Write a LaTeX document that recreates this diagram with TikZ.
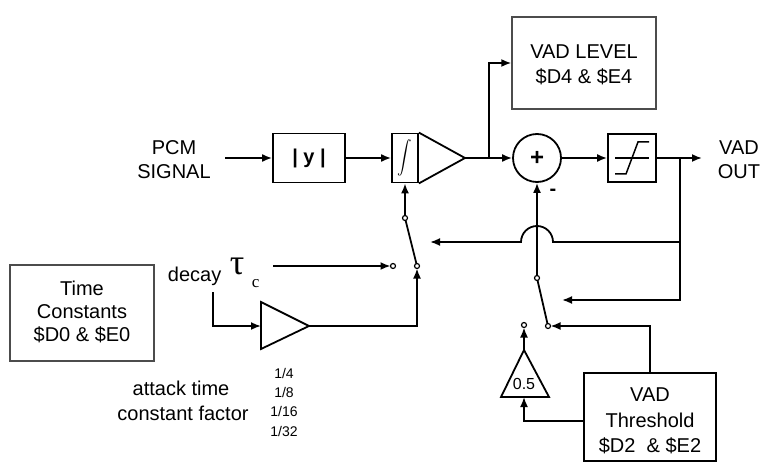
\documentclass[tikz,border=0pt]{standalone}
\usepackage{fontspec}
\setmainfont{Liberation Sans}
\newfontfamily\serifg{Liberation Serif}
\usetikzlibrary{arrows.meta}
\begin{document}
\begin{tikzpicture}[x=1pt,y=-1pt,
  line width=1.8pt,
  >={Latex[length=10pt,width=8pt]},
  box/.style={draw,line width=1.8pt,inner sep=0pt},
  gbox/.style={draw=black!70,line width=1.4pt,inner sep=0pt},
  txt/.style={font=\fontsize{20}{24}\selectfont,align=center,inner sep=0pt},
  contact/.style={draw,fill=white,line width=1.2pt,circle,inner sep=0pt,minimum size=5pt},
  frac/.style={font=\fontsize{14}{16}\selectfont,inner sep=0pt,anchor=base}]
\useasboundingbox (0,0) rectangle (762,465);

% boxes
\node[txt] (pcm) at (174,160) {PCM\\SIGNAL};
\coordinate (pcmstart) at (225,158);
\node[box,minimum width=72pt,minimum height=49pt,font=\fontsize{20}{24}\selectfont\bfseries] (abs) at (309,158) {|~y~|};
\node[box,minimum width=26pt,minimum height=49pt] (int) at (405,158) {\scalebox{1.45}[1.65]{$\displaystyle\int$}};
\coordinate (intapex) at (465,158);
\draw (int.north east) -- (intapex) -- (int.south east);
\node[box,circle,minimum size=48pt,font=\fontsize{24}{24}\selectfont\bfseries] (sum) at (537,158) {+};
\node[font=\fontsize{20}{20}\selectfont\bfseries,inner sep=0pt] (minus) at (553,192) {-};
\node[box,minimum width=48pt,minimum height=48pt] (sat) at (632,158) {};
\draw[line width=1.5pt] (615,158) -- (649,158);
\draw[line width=1.5pt] (615,174) -- (626,174) -- (638,142) -- (649,142);
\node[txt,anchor=west] (out) at (717,160) {VAD\\OUT};
\coordinate (outend) at (702,158);
\node[gbox,minimum width=144pt,minimum height=92pt] (lvl) at (584,63) {};
\node[txt,font=\fontsize{20}{25}\selectfont] (lvltxt) at (584,65) {VAD LEVEL\\\$D4 \& \$E4};
\node[gbox,minimum width=144pt,minimum height=96pt] (tc) at (82,313) {};
\node[txt,font=\fontsize{20}{23}\selectfont] (tctxt) at (82,312) {Time\\Constants\\\$D0 \& \$E0};
\node[box,minimum width=132pt,minimum height=88pt] (thr) at (650,417) {};
\node[txt,font=\fontsize{20}{25.5}\selectfont] (thrtxt) at (650,421) {VAD\\Threshold\\\$D2 \ \& \$E2};

% amplifier
\coordinate (amptop) at (261,302);
\coordinate (ampbot) at (261,349);
\coordinate (ampin) at (261,326);
\coordinate (ampapex) at (309,326);
\draw (amptop) -- (ampapex) -- (ampbot) -- cycle;
% 0.5 triangle
\coordinate (hl) at (501,397);
\coordinate (hr) at (549,397);
\coordinate (hbase) at (524,397);
\coordinate (hapex) at (524,350);
\draw (hl) -- (hapex) -- (hr) -- cycle;
\node[font=\fontsize{16}{16}\selectfont,inner sep=0pt] (half) at (524,384) {0.5};

% labels
\node[font=\fontsize{20}{20}\selectfont,anchor=base west,inner sep=0pt] (decay) at (167,281) {decay};
\node[font=\serifg\fontsize{36}{36}\selectfont,anchor=base west,inner sep=0pt] (tau) at (229,274) {τ};
\node[font=\serifg\fontsize{17}{17}\selectfont,anchor=base west,inner sep=0pt] (tsub) at (251,287) {c};
\node[font=\fontsize{20}{20}\selectfont,anchor=base,inner sep=0pt] (att1) at (181,395) {attack time};
\node[font=\fontsize{20}{20}\selectfont,anchor=base,inner sep=0pt] (att2) at (183,420) {constant factor};
\node[frac] (f1) at (284,378) {1/4};
\node[frac] (f2) at (284,397) {1/8};
\node[frac] (f3) at (284,416) {1/16};
\node[frac] (f4) at (284,436) {1/32};

% switches
\coordinate (pivL) at (405,218);
\coordinate (cL1) at (417,266);
\coordinate (cL2) at (393,266);
\coordinate (pivR) at (537,278);
\coordinate (cR1) at (548,326);
\coordinate (cR2) at (524,325);
\coordinate (decaystart) at (273,266);
\coordinate (ain) at (213,292);
\coordinate (br1) at (489,158);
\coordinate (br2) at (680,158);
\coordinate (br3) at (680,242);
\coordinate (fbend) at (430,242);
\coordinate (lowend) at (562,300);
\coordinate (thrin) at (584,421);

% connectors
\draw[->] (pcmstart) -- (abs.west);
\draw[->] (abs.east) -- (int.west);
\draw[->] (intapex) -- (sum.west);
\draw[->] (br1) |- (lvl.west);
\draw[->] (sum.east) -- (sat.west);
\draw[->] (sat.east) -- (outend);
\draw[->] (br2) |- (lowend);
\draw[->] (br3) -- (553,242) arc[start angle=0,end angle=-180,radius=16] -- (fbend);
\draw[->] (pivR) -- (sum.south);
\draw (pivR) -- (cR1);
\draw[->,shorten >=2.5pt] (thr.north) |- (cR1);
\draw[->,shorten >=2.5pt] (hapex) -- (cR2);
\draw[->] (thrin) -| (hbase);
\draw[->] (pivL) -- (int.south);
\draw (pivL) -- (cL1);
\draw[->,shorten >=2.5pt] (ampapex) -| (cL1);
\draw[->,shorten >=2.5pt] (decaystart) -- (cL2);
\draw[->] (ain) |- (ampin);

\foreach \c in {pivL,cL1,cL2,pivR,cR1,cR2} \node[contact] at (\c) {};
\end{tikzpicture}
\end{document}
